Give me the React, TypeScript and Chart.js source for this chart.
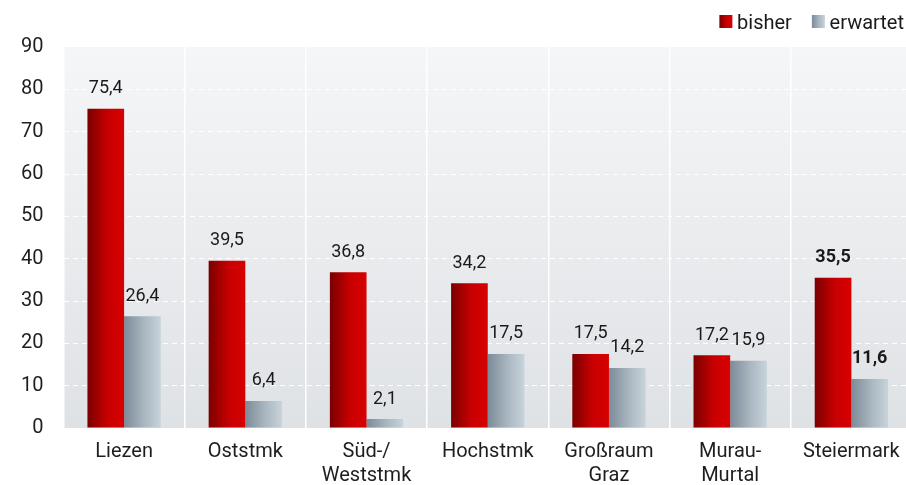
import React, { useEffect, useRef } from 'react';
import { Chart, registerables } from 'chart.js';

Chart.register(...registerables);

const categories: string[][] = [
  ['Liezen'],
  ['Oststmk'],
  ['Süd-/', 'Weststmk'],
  ['Hochstmk'],
  ['Großraum', 'Graz'],
  ['Murau-', 'Murtal'],
  ['Steiermark'],
];
const bisher = [75.4, 39.5, 36.8, 34.2, 17.5, 17.2, 35.5];
const erwartet = [26.4, 6.4, 2.1, 17.5, 14.2, 15.9, 11.6];
const seriesNames = ['bisher', 'erwartet'];
const yMin = 0;
const yMax = 90;
const yStep = 10;
const boldIndex = 6;

const FONT = 'Roboto, "Noto Sans", sans-serif';
const gradStops: [number, string][][] = [
  [[0, '#7a0000'], [0.55, '#c80000'], [1, '#d80000']],
  [[0, '#7b8b98'], [0.55, '#aab7c1'], [1, '#c8d3da']],
];

function hGrad(ctx: CanvasRenderingContext2D, x0: number, x1: number, stops: [number, string][]) {
  const g = ctx.createLinearGradient(x0, 0, x1, 0);
  stops.forEach(([o, c]) => g.addColorStop(o, c));
  return g;
}

const fmt = (v: number) => v.toFixed(1).replace('.', ',');

const bgPlugin = {
  id: 'bgPlugin',
  beforeDraw(chart: any) {
    const { ctx, chartArea: a } = chart;
    const g = ctx.createLinearGradient(0, a.top, 0, a.bottom);
    g.addColorStop(0, '#f5f6f8');
    g.addColorStop(1, '#dfe2e5');
    ctx.save();
    ctx.fillStyle = g;
    ctx.fillRect(a.left, a.top, a.right - a.left, a.bottom - a.top);
    ctx.restore();
  },
  beforeDatasetsDraw(chart: any) {
    const ctx = chart.ctx;
    chart.data.datasets.forEach((_: any, di: number) => {
      const meta = chart.getDatasetMeta(di);
      meta.data.forEach((el: any) => {
        const x0 = el.x - el.width / 2;
        const x1 = el.x + el.width / 2;
        el.options = { ...el.options, backgroundColor: hGrad(ctx, x0, x1, gradStops[di]) };
      });
    });
  },
  afterDatasetsDraw(chart: any) {
    const ctx = chart.ctx;
    ctx.save();
    ctx.textAlign = 'center';
    ctx.textBaseline = 'alphabetic';
    ctx.fillStyle = '#1a1a1a';
    chart.data.datasets.forEach((ds: any, di: number) => {
      const meta = chart.getDatasetMeta(di);
      meta.data.forEach((el: any, i: number) => {
        ctx.font = `${i === boldIndex ? 'bold ' : ''}18px ${FONT}`;
        ctx.fillText(fmt(ds.data[i]), el.x, el.y - 15.5);
      });
    });
    ctx.restore();
  },
  afterDraw(chart: any) {
    const ctx = chart.ctx;
    ctx.save();
    ctx.font = `20px ${FONT}`;
    ctx.textBaseline = 'alphabetic';
    ctx.textAlign = 'left';
    let right = 904;
    for (let i = seriesNames.length - 1; i >= 0; i--) {
      const w = ctx.measureText(seriesNames[i]).width;
      const tx = right - w;
      const bx = tx - 4.7 - 13;
      ctx.fillStyle = hGrad(ctx, bx, bx + 13, gradStops[i]);
      ctx.fillRect(bx, 15, 13, 13);
      ctx.fillStyle = '#1a1a1a';
      ctx.fillText(seriesNames[i], tx, 28.5);
      right = bx - 20;
    }
    ctx.restore();
  },
};

export default function App() {
  const ref = useRef<HTMLCanvasElement>(null);
  useEffect(() => {
    if (!ref.current) return;
    const chart = new Chart(ref.current, {
      type: 'bar',
      data: {
        labels: categories,
        datasets: [
          { label: seriesNames[0], data: bisher, backgroundColor: '#c00000', borderWidth: 0 },
          { label: seriesNames[1], data: erwartet, backgroundColor: '#a0aebb', borderWidth: 0 },
        ],
      },
      options: {
        responsive: false,
        animation: false,
        devicePixelRatio: 1,
        layout: { padding: { top: 47, left: 0, right: 0, bottom: 0 } },
        datasets: { bar: { categoryPercentage: 0.605, barPercentage: 1 } },
        plugins: { legend: { display: false }, tooltip: { enabled: false } },
        scales: {
          x: {
            offset: true,
            grid: { offset: true, color: '#ffffff', lineWidth: 1.5, drawTicks: false },
            border: { display: false },
            ticks: { font: { family: FONT, size: 20 }, color: '#1e1e1e', padding: 12, maxRotation: 0, autoSkip: false },
            afterFit: (s: any) => { s.height = 57; },
          },
          y: {
            min: yMin,
            max: yMax,
            grid: {
              color: (c: any) => (c.tick && (c.tick.value === yMin || c.tick.value === yMax) ? 'rgba(0,0,0,0)' : '#ffffff'),
              lineWidth: 1,
              drawTicks: false,
            },
            border: { display: false, dash: [5, 4] },
            ticks: { stepSize: yStep, font: { family: FONT, size: 20 }, color: '#1e1e1e', padding: 20 },
            afterFit: (s: any) => { s.width = 63.5; },
          },
        },
      },
      plugins: [bgPlugin],
    } as any);
    return () => chart.destroy();
  }, []);
  return (
    <div style={{ position: 'absolute', left: 0, top: 0, width: 906, height: 485, overflow: 'hidden', background: '#fff' }}>
      <canvas ref={ref} width={912} height={485} style={{ width: 912, height: 485, display: 'block' }} />
    </div>
  );
}
